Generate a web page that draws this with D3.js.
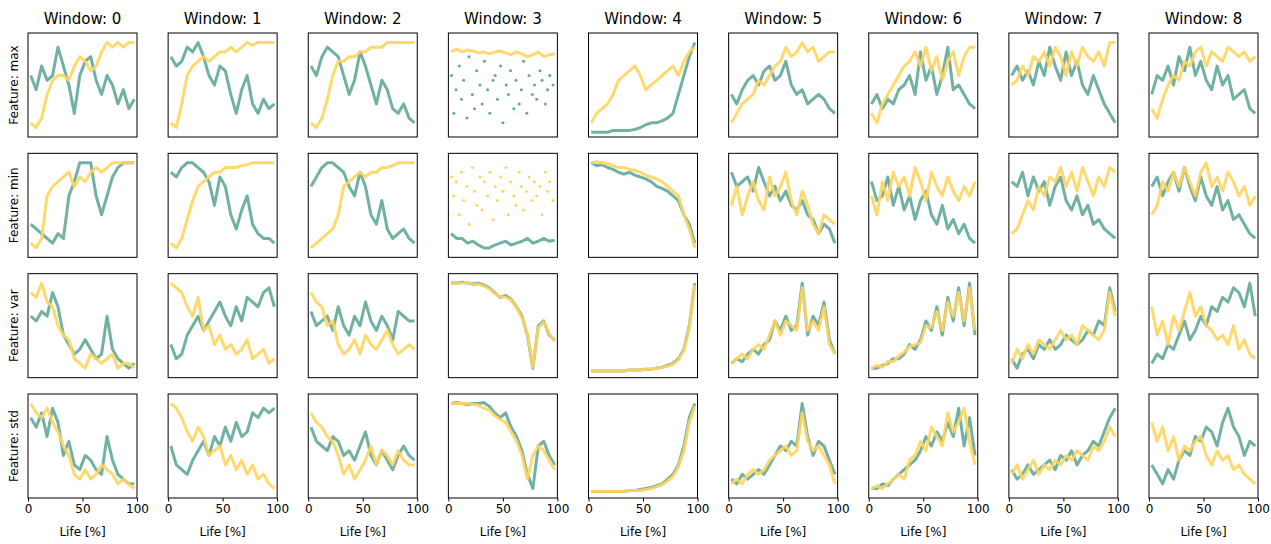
<!DOCTYPE html>
<html><head><meta charset="utf-8">
<script src="https://cdn.jsdelivr.net/npm/d3@7"></script>
<style>body{margin:0;background:#fff}text{font-family:"DejaVu Sans",sans-serif}</style>
</head><body><svg id="c" width="1271" height="544"></svg>
<script>
var windows = [0,1,2,3,4,5,6,7,8];
var features = ["max","min","var","std"];
var xs = [2.5,7.5,12.5,17.5,22.5,27.5,32.5,37.5,42.5,47.5,52.5,57.5,62.5,67.5,72.5,77.5,82.5,87.5,92.5,97.5];
var xsScatter = [3,5,7,10,12,14,17,19,22,24,26,29,31,33,36,38,41,43,45,48,50,53,55,57,60,62,65,67,69,72,74,77,79,81,84,86,89,91,93,96];
var scatterLow = [60,20,45,70,35,55,15,80,40,25,65,50,30,75,45,20,55,60,35,70,10,50,40,65,25,55,30,45,75,20,60,40,50,35,65,55,30,45,60,50];
var scatterHigh = [80,60,75,40,85,55,70,30,90,65,50,80,45,75,60,85,35,70,55,80,65,90,40,75,60,50,85,70,45,65,80,55,75,60,70,40,85,65,75,55];

var maxGreen = [
[60,45,70,55,60,90,70,50,20,60,75,80,55,40,60,50,30,45,25,35],
[80,70,75,90,85,95,80,60,50,70,65,40,20,45,60,30,20,35,25,30],
[70,60,80,90,85,80,60,40,55,85,70,50,30,55,45,25,20,30,15,10],
null,
[0,0,0,0,2,2,2,2,3,5,8,10,10,12,15,20,40,60,80,95],
[40,30,45,55,60,50,65,70,55,60,75,50,40,45,30,35,40,35,25,20],
[30,40,25,35,30,45,50,60,40,85,55,70,40,60,90,45,50,40,30,25],
[60,70,55,65,50,75,60,90,70,55,85,60,75,50,40,60,45,30,20,10],
[40,60,55,70,50,80,65,90,60,75,55,45,70,50,60,35,40,45,25,20]];
var maxYellow = [
[10,5,15,40,55,60,60,55,70,80,75,65,70,85,95,90,95,90,95,95],
[10,5,30,60,70,75,80,75,80,85,85,90,85,90,95,92,95,95,95,95],
[10,5,15,35,60,75,75,80,80,85,85,90,90,90,95,95,95,95,95,95],
[85,88,85,87,86,84,85,83,85,86,84,82,85,83,80,82,85,80,82,83],
[10,20,25,30,40,55,60,65,70,60,45,50,55,60,65,70,60,75,85,90],
[10,20,30,35,40,55,50,60,70,75,90,80,85,95,85,90,75,80,85,85],
[20,10,30,40,50,60,70,75,85,70,90,65,80,55,75,85,60,80,90,90],
[50,55,70,60,80,75,85,70,90,80,60,85,70,90,80,75,85,70,95,95],
[25,15,35,50,60,55,75,70,85,90,70,85,80,75,90,85,80,85,75,80]];
var minGreen = [
[30,25,20,15,10,20,15,60,75,95,95,95,60,40,60,80,90,95,95,95],
[85,80,90,95,95,90,85,75,50,80,70,40,25,45,60,30,20,15,15,10],
[70,80,90,95,95,90,85,70,60,85,70,40,30,55,25,15,20,25,15,10],
[20,15,15,10,12,8,5,5,8,10,12,8,10,12,15,10,12,15,12,13],
[95,92,93,90,88,85,83,85,82,80,78,75,70,68,65,60,55,40,30,10],
[85,70,75,80,65,90,75,60,70,55,65,50,45,55,40,35,20,30,25,10],
[75,55,60,80,50,70,45,60,35,55,65,40,30,50,25,35,20,30,15,10],
[75,70,85,60,80,65,75,50,70,80,55,45,60,40,50,30,35,25,20,15],
[70,80,60,75,85,65,90,70,55,80,60,50,70,45,55,35,40,30,20,15]];
var minYellow = [
[10,5,15,60,70,75,80,85,70,80,75,85,90,85,90,95,95,95,95,95],
[10,5,15,35,55,70,75,80,85,85,90,90,90,92,93,95,95,95,95,95],
[5,10,15,20,25,40,70,75,80,85,80,85,85,90,90,92,95,95,95,95],
null,
[95,96,95,94,92,90,90,88,87,85,82,80,78,75,70,65,60,40,25,5],
[50,70,40,60,75,55,45,80,60,70,85,55,40,65,50,30,20,40,35,30],
[60,40,75,55,85,70,80,60,90,75,55,85,70,60,80,65,55,70,60,75],
[20,25,40,55,45,70,60,80,75,90,70,85,65,90,75,60,80,70,90,85],
[40,50,75,65,85,70,90,75,60,85,95,70,80,65,85,75,60,70,50,60]];
var varGreen = [
[60,55,65,60,85,70,40,30,20,25,35,25,15,20,60,25,15,10,5,10],
[30,15,20,40,50,60,45,55,65,75,60,50,70,55,80,75,70,85,90,70],
[65,50,55,60,45,70,50,40,60,50,75,55,45,60,50,35,65,60,55,55],
[95,95,96,95,94,95,93,90,85,80,82,78,70,60,40,5,50,55,40,35],
[2,2,2,2,2,2,2,3,3,3,4,4,5,6,8,10,15,25,50,95],
[10,15,12,20,25,20,30,35,55,45,60,45,50,95,40,60,50,75,35,20],
[5,5,8,10,15,15,20,30,25,35,55,45,70,40,80,55,90,50,95,40],
[15,5,20,25,15,30,25,35,25,30,40,35,30,35,45,40,55,50,90,65],
[10,20,15,30,25,40,55,35,45,60,50,70,65,80,75,90,85,70,95,60]];
var varYellow = [
[85,80,95,75,70,50,40,35,15,10,5,20,15,10,15,20,5,10,10,5],
[95,90,85,70,60,80,45,50,30,40,25,30,20,25,35,15,20,25,10,15],
[85,75,70,50,55,30,20,25,35,20,40,30,25,35,45,30,20,25,30,25],
[94,95,95,96,93,94,92,89,84,81,80,77,69,58,42,6,48,54,42,33],
[2,2,2,2,2,2,2,3,3,3,4,4,5,6,7,9,14,24,48,93],
[10,15,20,15,25,30,25,40,55,40,55,50,45,90,45,55,45,70,30,20],
[5,8,6,12,12,18,22,28,30,32,50,48,65,45,75,60,85,55,90,45],
[10,25,15,30,20,35,30,25,35,45,35,40,30,50,45,40,35,45,85,60],
[70,40,55,30,60,45,65,85,60,70,50,45,35,40,30,50,25,35,20,15]];
var stdGreen = [
[80,70,85,60,90,75,40,55,30,25,40,35,25,20,60,35,20,15,10,10],
[50,30,25,20,35,45,55,40,60,50,70,55,75,60,65,85,80,90,85,90],
[70,55,50,45,60,55,40,45,35,50,65,40,30,45,35,25,40,50,40,35],
[95,96,95,94,95,95,96,92,85,80,85,70,60,45,20,5,50,55,40,30],
[2,2,2,2,2,2,2,3,3,4,5,6,8,10,15,20,30,50,80,95],
[15,10,20,15,20,25,20,30,40,50,45,55,50,95,60,40,55,50,35,20],
[5,5,10,8,15,20,25,30,35,45,60,50,65,55,75,60,90,50,80,40],
[25,15,20,30,20,25,30,35,25,40,35,45,30,40,45,55,50,65,80,90],
[30,20,10,25,15,35,45,40,60,55,70,65,50,75,90,70,60,40,55,50]];
var stdYellow = [
[95,85,80,90,75,65,50,40,20,15,25,15,20,30,25,20,10,15,10,5],
[95,90,80,65,55,70,60,40,45,50,30,40,25,35,20,30,15,20,10,5],
[85,75,70,60,55,40,20,30,15,25,35,50,30,45,40,30,45,35,30,30],
[95,95,95,95,94,93,90,88,82,78,75,65,55,40,15,40,50,45,35,25],
[2,2,2,2,2,2,2,3,3,3,4,5,7,9,13,18,28,45,75,92],
[10,15,10,20,25,20,25,35,40,45,50,40,45,85,55,45,50,40,30,10],
[5,8,5,10,15,20,15,35,40,55,45,70,60,50,85,65,75,90,55,30],
[20,30,15,25,35,20,30,25,35,30,40,35,45,40,35,50,45,55,70,60],
[75,55,70,45,60,35,50,45,55,60,40,30,45,35,40,25,30,20,15,10]];

var greens = {max: maxGreen, min: minGreen, "var": varGreen, std: stdGreen};
var yellows = {max: maxYellow, min: minYellow, "var": varYellow, std: stdYellow};
var scatterGreen = {max: scatterLow};   // window 3 only
var scatterYellow = {min: scatterHigh};

var GREEN = "#62a899", YELLOW = "#ffd55e";
var svg = d3.select("#c");
var pw = 109, ph = 104;
var colX = d3.scalePoint().domain(windows).range([28, 1149]);
var rowY = d3.scalePoint().domain(features).range([33, 394]);
var x = d3.scaleLinear().domain([0, 100]).range([0, pw]);
var y = d3.scaleLinear().domain([-5, 105]).range([ph, 0]);
var line = d3.line().x((d, i) => x(xs[i])).y(d => y(d));

function drawSeries(g, vals, sc, color) {
  if (vals) {
    g.append("path").datum(vals).attr("d", line).attr("fill", "none")
      .attr("stroke", color).attr("stroke-width", 3).attr("stroke-opacity", 0.9)
      .attr("stroke-linejoin", "round");
  } else if (sc) {
    g.selectAll(null).data(sc).enter().append("circle")
      .attr("cx", (d, i) => x(xsScatter[i])).attr("cy", d => y(d))
      .attr("r", 1.5).attr("fill", color);
  }
}

features.forEach((f, r) => {
  windows.forEach((w, c) => {
    var g = svg.append("g").attr("transform", "translate(" + colX(w) + "," + rowY(f) + ")");
    drawSeries(g, greens[f][c], scatterGreen[f], GREEN);
    drawSeries(g, yellows[f][c], scatterYellow[f], YELLOW);
    g.append("rect").attr("width", pw).attr("height", ph).attr("fill", "none").attr("stroke", "#000").attr("stroke-width", 1);
    if (r == 0) g.append("text").attr("x", pw / 2).attr("y", -9).attr("text-anchor", "middle").attr("font-size", 15).text("Window: " + w);
    if (c == 0) g.append("text").attr("transform", "translate(-10," + ph / 2 + ") rotate(-90)").attr("text-anchor", "middle").attr("font-size", 12).text("Feature: " + f);
    if (r == features.length - 1) {
      g.append("g").attr("transform", "translate(0," + ph + ")")
        .call(d3.axisBottom(x).tickValues([0, 50, 100]).tickSize(3.5))
        .call(a => a.select(".domain").remove())
        .selectAll("text").attr("font-size", 12).attr("font-family", "DejaVu Sans");
      g.append("text").attr("x", pw / 2).attr("y", ph + 38).attr("text-anchor", "middle").attr("font-size", 12).text("Life [%]");
    }
  });
});
</script></body></html>
